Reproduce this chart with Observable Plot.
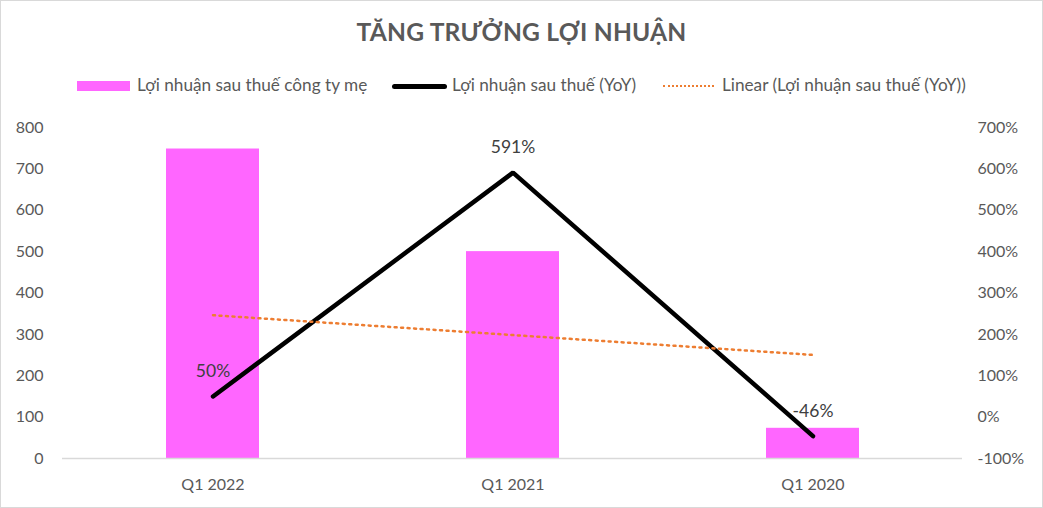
<!DOCTYPE html>
<html>
<head>
<meta charset="utf-8">
<script src="https://cdn.jsdelivr.net/npm/d3@7"></script>
<script src="https://cdn.jsdelivr.net/npm/@observablehq/plot@0.6"></script>
<style>
  html, body { margin: 0; padding: 0; background: #fff; }
  #frame {
    position: relative; width: 1043px; height: 508px; overflow: hidden;
    font-family: Lato, "Open Sans", sans-serif; color: #595959; background: #fff;
  }
  #border {
    position: absolute; inset: 0; border: 1px solid #d9d9d9; pointer-events: none;
    box-sizing: border-box;
  }
  #title {
    position: absolute; top: 17px; left: 0; width: 1043px; text-align: center;
    font-size: 24.6px; font-weight: 700; letter-spacing: 0.2px;
  }
  .leg { position: absolute; top: 75px; font-size: 17.2px; line-height: 20px; white-space: nowrap; }
  .sw { position: absolute; }
  #chart { position: absolute; top: 110px; left: 0; }
</style>
</head>
<body>
<div id="frame">
  <div id="title">TĂNG TRƯỞNG LỢI NHUẬN</div>
  <div id="legend"></div>
  <div id="chart"></div>
  <div id="border"></div>
</div>
<script>
// Quarters and the two series
const categories = ["Q1 2022", "Q1 2021", "Q1 2020"];
const profit = [748, 500, 73];            // Lợi nhuận sau thuế công ty mẹ
const yoy = [50, 591, -46];               // Lợi nhuận sau thuế (YoY), %
const yoyLabels = ["50%", "591%", "-46%"];

// Axis ticks
const leftTicks = [0, 100, 200, 300, 400, 500, 600, 700, 800];
const rightTicks = [-100, 0, 100, 200, 300, 400, 500, 600, 700];

const seriesNames = [
  "Lợi nhuận sau thuế công ty mẹ",
  "Lợi nhuận sau thuế (YoY)",
  "Linear (Lợi nhuận sau thuế (YoY))"
];

// Map a percentage on the right axis onto the left axis units
const leftDomain = [leftTicks[0], leftTicks[leftTicks.length - 1]];
const rightDomain = [rightTicks[0], rightTicks[rightTicks.length - 1]];
const toLeft = p => leftDomain[0] +
  (p - rightDomain[0]) * (leftDomain[1] - leftDomain[0]) / (rightDomain[1] - rightDomain[0]);

// Least-squares trend of the YoY series over the quarter index
const n = yoy.length;
const xs = d3.range(n);
const mx = d3.mean(xs), my = d3.mean(yoy);
const slope = d3.sum(xs, (x, i) => (x - mx) * (yoy[i] - my)) / d3.sum(xs, x => (x - mx) ** 2);
const trend = xs.map(x => my + slope * (x - mx));

const rows = categories.map((c, i) => ({
  cat: c, profit: profit[i], yoy: yoy[i], label: yoyLabels[i], trend: trend[i]
}));

const chart = Plot.plot({
  width: 1043,
  height: 398,
  marginTop: 17,
  marginBottom: 50,
  marginLeft: 62,
  marginRight: 81,
  style: { fontFamily: "Lato, 'Open Sans', sans-serif", fontSize: "16px", color: "#595959", background: "transparent" },
  x: { domain: categories, paddingInner: 0.69, paddingOuter: 0.345, label: null },
  y: { domain: leftDomain, label: null },
  marks: [
    Plot.barY(rows, { x: "cat", y: "profit", fill: "#FF66FF" }),
    Plot.ruleY([0], { stroke: "#d9d9d9", strokeWidth: 1.5 }),
    Plot.axisX({ tickSize: 0, tickPadding: 20, label: null, fontSize: 16 }),
    Plot.axisY({ ticks: leftTicks, tickSize: 0, tickPadding: 19, label: null, fontSize: 16 }),
    Plot.axisY({
      anchor: "right", ticks: rightTicks.map(toLeft), tickFormat: d => `${Math.round(d - toLeft(0))}%`,
      tickSize: 0, tickPadding: 15, label: null, fontSize: 16
    }),
    Plot.line(rows, { x: "cat", y: d => toLeft(d.yoy), stroke: "#000", strokeWidth: 4.5, strokeLinecap: "round", strokeLinejoin: "miter" }),
    Plot.line(rows, { x: "cat", y: d => toLeft(d.trend), stroke: "#ED7D31", strokeWidth: 2.5, strokeDasharray: "2 4.5" }),
    Plot.text(rows, { x: "cat", y: d => toLeft(d.yoy), text: "label", dy: -25, fill: "#404040", fontSize: 17.5 })
  ]
});
document.getElementById("chart").appendChild(chart);

// Legend
const legend = document.getElementById("legend");
const swatches = [
  { left: 77, html: `<div style="width:53px;height:10px;background:#FF66FF"></div>`, top: 81, text: 137 },
  { left: 392, html: `<div style="width:55px;height:5px;background:#000;border-radius:3px"></div>`, top: 84, text: 452 },
  { left: 663, html: `<div style="width:51px;height:0;border-top:2px dotted #ED7D31"></div>`, top: 85, text: 722 }
];
swatches.forEach((s, i) => {
  const sw = document.createElement("div");
  sw.className = "sw";
  sw.style.left = s.left + "px";
  sw.style.top = s.top + "px";
  sw.innerHTML = s.html;
  legend.appendChild(sw);
  const t = document.createElement("div");
  t.className = "leg";
  t.style.left = s.text + "px";
  t.textContent = seriesNames[i];
  legend.appendChild(t);
});
</script>
</body>
</html>
